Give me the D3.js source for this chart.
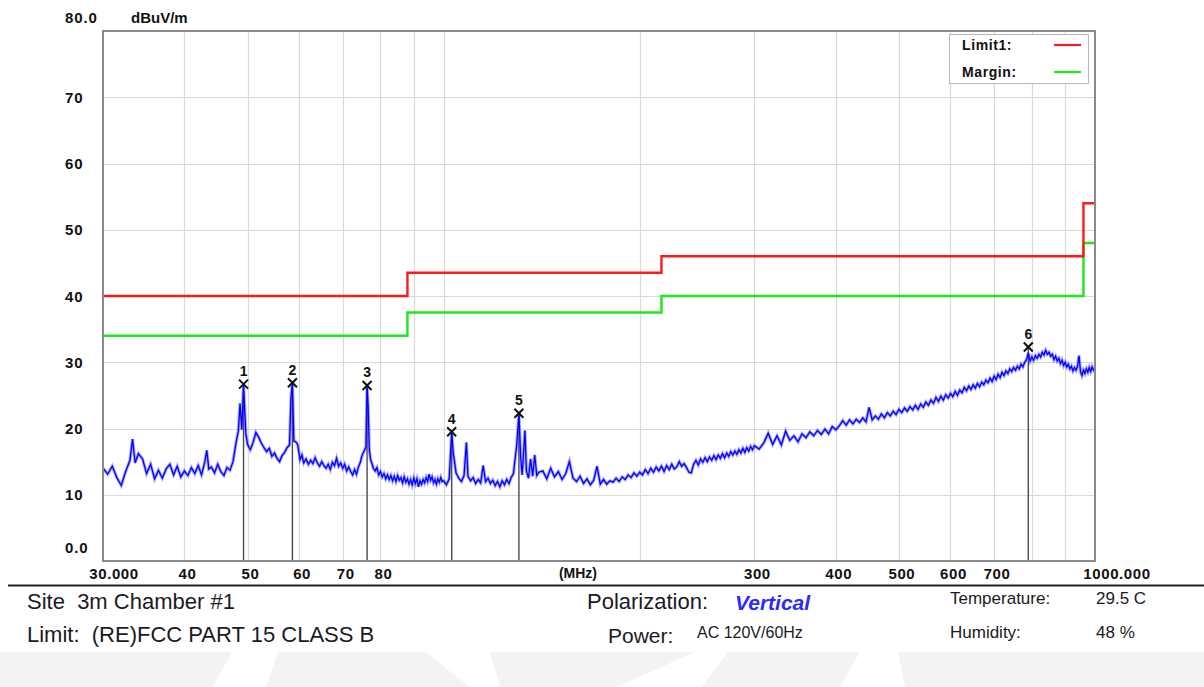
<!DOCTYPE html>
<html><head><meta charset="utf-8">
<script src="https://cdn.jsdelivr.net/npm/d3@7"></script>
<style>body{margin:0;background:#fff;} svg{display:block;} text{white-space:pre;}</style>
</head><body><svg id="c" width="1204" height="687"></svg>
<script>
const yTicks=[0,10,20,30,40,50,60,70,80];
const yTickLabels=["0.0","10","20","30","40","50","60","70","80.0"];
const xGridFreqs=[40,50,60,70,80,90,100,200,300,400,500,600,700,800,900];
const xTickFreqs=[30,40,50,60,70,80,300,400,500,600,700,1000];
const xTickLabels=["30.000","40","50","60","70","80","300","400","500","600","700","1000.000"];
const limitFreqs=[30,88,216,960,1000];
const limitLevels=[40,43.5,46,54,54];
const marginLevels=[34,37.5,40,48,48];
const markerIds=["1","2","3","4","5","6"];
const markerFreqs=[49.3,58.6,76.3,102.9,130.5,790];
const markerLevels=[26.7,26.9,26.5,19.5,22.3,32.3];
const legendNames=["Limit1:","Margin:"];
const legendColors=["#ff1a1a","#1ee61e"];

const traceLow=[[30,14.0],[30.5,13.1],[31,14.3],[31.5,12.6],[32,11.4],[32.5,13.5],[33,15.2],[33.3,18.4],[33.6,14.8],[34,16.2],[34.5,15.4],[35,13.2],[35.5,14.6],[36,12.4],[36.5,13.7],[37,12.5],[37.5,13.9],[38,14.6],[38.5,13.0],[39,14.3],[39.5,12.7],[40,13.6],[40.5,12.9],[41,14.1],[41.5,13.2],[42,14.4],[42.5,13.0],[43,15.0],[43.3,16.7],[43.6,13.9],[44,14.2],[44.5,13.3],[45,14.6],[45.5,13.5],[46,12.9],[46.5,14.1],[47,13.7],[47.5,15.0],[48,17.8],[48.4,19.6],[48.7,23.8],[49,19.8],[49.3,26.6],[49.7,19.3],[50,17.6],[50.5,16.8],[51,17.9],[51.5,19.4],[52,18.7],[52.5,17.8],[53,17.1],[53.5,16.5],[54,17.0],[54.5,15.8],[55,16.3],[55.5,15.5],[56,15.0],[56.5,15.9],[57,16.4],[57.5,17.1],[58,17.5],[58.3,24.6],[58.6,26.9],[58.9,18.1],[59.3,18.0],[59.7,17.6],[60.2,15.3],[60.6,16.0],[61,14.8],[61.5,15.4],[62,14.6],[62.5,15.2],[63,14.7],[63.5,15.6],[64,14.8],[64.5,14.3],[65,15.0],[65.5,14.4],[66,14.0],[66.5,14.6],[67,13.8],[67.5,14.9],[68,14.4],[68.5,15.5],[69,14.3],[69.5,14.8],[70,14.0],[70.5,14.6],[71,13.6],[71.5,14.2],[72,13.5],[72.5,13.0],[73,13.8],[73.5,13.1],[74,14.2],[74.5,14.9],[75,16.0],[75.5,16.6],[76,17.2],[76.3,26.5],[76.6,23.2],[76.9,16.8],[77.3,15.2],[77.7,14.6],[78,14.0],[78.5,13.6],[79,14.1],[79.5,13.0],[80,13.5],[80.5,12.7],[81,13.2],[81.5,12.4],[82,13.0],[82.5,12.3],[83,12.9],[83.5,12.1],[84,12.8],[84.5,12.0],[85,12.9],[85.5,12.2],[86,12.6],[86.5,11.8],[87,12.7],[87.5,11.9],[88,12.4],[88.5,11.6],[89,12.3],[89.5,11.5],[90,12.5],[90.5,11.7],[91,12.4],[91.5,11.2],[92,12.1],[92.5,11.6],[93,12.3],[93.5,11.8],[94,12.6],[94.5,12.0],[95,13.1],[95.5,12.2],[96,12.7],[96.5,11.8],[97,12.3],[97.5,11.6],[98,12.4],[98.5,11.9],[99,12.6],[99.5,12.0]];

const traceMid=[[100,12.1],[101,11.5],[102,12.4],[102.9,19.5],[103.5,16.2],[104.5,13.3],[105.5,12.5],[106.5,12.0],[107.5,12.9],[108.4,17.9],[109,12.8],[110,12.1],[111,12.6],[112,11.7],[113,12.3],[114,11.8],[115,14.4],[116,12.0],[117,12.5],[118,11.7],[119,12.2],[120,11.4],[121,12.0],[122,11.2],[123,12.1],[124,11.5],[125,12.3],[126,11.7],[127,12.6],[128,13.2],[129.5,17.5],[130.5,22.3],[131.3,15.8],[132,13.0],[133.3,19.7],[134,13.6],[135,12.5],[136,15.4],[137,12.8],[138,16.0],[139,12.9],[140,13.4],[142,13.6],[144,12.4],[146,14.0],[148,12.7],[150,13.5],[152,12.3],[154,13.2],[156,15.0],[158,12.5],[160,12.0],[162,12.8],[164,11.7],[166,12.4],[168,11.5],[170,12.2],[172,14.3],[174,11.6],[176,12.3],[178,11.6],[180,12.1],[182,11.9],[184,12.5],[186,12.0],[188,12.7],[190,12.3],[192,13.0],[194,12.6],[196,13.3],[198,12.8],[200,13.4],[202,13.0],[204,13.8],[206,13.2],[208,14.0],[210,13.4],[212,14.2],[214,13.6],[216,14.3],[218,13.5],[220,14.4],[222,13.8],[224,14.6],[226,13.9],[228,14.2],[230,15.0],[232,14.3],[234,14.7],[236,14.1],[238,13.4],[240,13.3],[242,14.6],[244,15.2],[246,14.5],[248,15.4],[250,14.9],[252,15.6],[254,15.0],[256,15.7],[258,15.2],[260,15.9],[262,15.3],[264,16.0],[266,15.5],[268,16.2],[270,15.6],[272,16.3],[274,15.8],[276,16.5],[278,16.0],[280,16.6],[282,16.1],[284,16.8],[286,16.3],[288,17.0],[290,16.4],[292,17.1],[294,16.6],[296,17.3],[298,16.8]];

const traceHigh=[[300,17.4],[305,16.9],[310,17.8],[315,19.3],[320,17.6],[325,18.9],[330,17.5],[335,19.6],[340,18.2],[345,18.9],[350,18.0],[355,19.2],[360,18.6],[365,19.5],[370,18.9],[375,19.7],[380,19.1],[385,19.9],[390,19.2],[395,20.3],[400,19.8],[405,20.4],[410,21.2],[415,20.5],[420,21.3],[425,20.7],[430,21.4],[435,20.9],[440,21.6],[445,21.0],[450,23.2],[455,21.3],[460,21.9],[465,21.4],[470,22.2],[475,21.6],[480,22.4],[485,21.9],[490,22.6],[495,22.1],[500,22.9],[505,22.4],[510,23.1],[515,22.6],[520,23.3],[525,22.8],[530,23.5],[535,22.9],[540,23.7],[545,23.2],[550,24.0],[555,23.5],[560,24.3],[565,23.8],[570,24.7],[575,24.1],[580,24.9],[585,24.3],[590,25.1],[595,24.6],[600,25.3],[605,24.8],[610,25.6],[615,25.0],[620,25.8],[625,25.4],[630,26.2],[635,25.7],[640,26.4],[645,25.9],[650,26.6],[655,26.1],[660,26.8],[665,26.3],[670,27.0],[675,26.6],[680,27.3],[685,26.9],[690,27.6],[695,27.1],[700,27.9],[705,27.4],[710,28.2],[715,27.7],[720,28.5],[725,28.0],[730,28.7],[735,28.3],[740,29.0],[745,28.6],[750,29.2],[755,28.8],[760,29.4],[765,29.0],[770,29.7],[775,29.3],[780,30.0],[785,30.4],[790,31.4],[795,30.2],[800,30.8],[805,30.3],[810,31.0],[815,30.6],[820,31.2],[825,30.8],[830,31.5],[835,31.1],[840,31.8],[845,31.2],[850,31.5],[855,30.9],[860,31.2],[865,30.4],[870,30.9],[875,30.2],[880,30.6],[885,29.8],[890,30.3],[895,29.5],[900,30.0],[905,29.3],[910,29.7],[915,29.0],[920,29.4],[925,28.7],[930,29.2],[935,28.8],[940,29.4],[945,31.0],[950,28.6],[955,28.0],[960,28.8],[965,28.3],[970,29.0],[975,28.5],[980,29.2],[985,28.6],[990,29.3],[995,28.8],[1000,29.1]];

const svg=d3.select("#c");
const W=1204,H=687;
const x=d3.scaleLog().domain([30,1000]).range([103,1095]);
const y=d3.scaleLinear().domain([0,80]).range([561,31]);
const axisFont="'Liberation Sans', Arial, sans-serif";

svg.append("rect").attr("width",W).attr("height",H).attr("fill","#fff");

// watermark band
svg.append("rect").attr("x",0).attr("y",652).attr("width",W).attr("height",35).attr("fill","#f3f3f3");
const wm=[[[232,652],[278,652],[266,687],[213,687]],[[425,652],[490,652],[500,687],[470,687]],[[695,652],[728,652],[702,687],[617,687]],[[860,652],[898,652],[905,687],[840,687]]];
svg.selectAll("polygon.wm").data(wm).enter().append("polygon").attr("class","wm")
  .attr("points",d=>d.map(p=>p.join(",")).join(" ")).attr("fill","#fff");

// grid
const grid=svg.append("g").attr("stroke","#d9d9d9").attr("stroke-width",1.2);
grid.selectAll("line.h").data(yTicks.slice(1,-1)).enter().append("line")
  .attr("x1",103).attr("x2",1095).attr("y1",d=>Math.round(y(d))+0.5).attr("y2",d=>Math.round(y(d))+0.5);
grid.selectAll("line.v").data(xGridFreqs).enter().append("line")
  .attr("y1",31).attr("y2",561).attr("x1",d=>Math.round(x(d))+0.5).attr("x2",d=>Math.round(x(d))+0.5);

// legend box
svg.append("rect").attr("x",949.5).attr("y",34.5).attr("width",139).attr("height",49).attr("fill","#fff").attr("stroke","#b8b8b8");
legendNames.forEach((n,i)=>{
  svg.append("text").attr("x",962).attr("y",45+i*27).attr("dominant-baseline","central")
    .attr("font-family",axisFont).attr("font-weight","bold").attr("font-size",14).attr("letter-spacing",0.6).attr("fill","#111").text(n);
  svg.append("line").attr("x1",1054).attr("x2",1081).attr("y1",45+i*27).attr("y2",45+i*27)
    .attr("stroke",legendColors[i]).attr("stroke-width",2.2);
});

// limit & margin
const stepLine=d3.line().x(d=>x(d[0])).y(d=>y(d[1])).curve(d3.curveStepAfter);
svg.append("path").datum(limitFreqs.map((f,i)=>[f,marginLevels[i]])).attr("d",stepLine)
  .attr("fill","none").attr("stroke","#1ee61e").attr("stroke-width",2.4);
svg.append("path").datum(limitFreqs.map((f,i)=>[f,limitLevels[i]])).attr("d",stepLine)
  .attr("fill","none").attr("stroke","#ff1a1a").attr("stroke-width",2.4);

// marker lines
const mk=markerFreqs.map((f,i)=>({f,v:markerLevels[i],id:markerIds[i]}));
svg.selectAll("line.mk").data(mk).enter().append("line")
  .attr("x1",d=>x(d.f)).attr("x2",d=>x(d.f)).attr("y1",d=>y(d.v)).attr("y2",561)
  .attr("stroke","#4a4a4a").attr("stroke-width",1.4);

// trace (soft underlay + line to mimic dense sweep)
const trace=traceLow.concat(traceMid,traceHigh);
const ln=d3.line().x(d=>x(d[0])).y(d=>y(d[1]));
svg.append("path").datum(trace).attr("d",ln).attr("fill","none").attr("stroke","#3a3aff").attr("stroke-opacity",0.45).attr("stroke-width",3.2);
svg.append("path").datum(trace).attr("d",ln).attr("fill","none").attr("stroke","#0000ff").attr("stroke-width",1.3);

// markers
const mg=svg.selectAll("g.mk").data(mk).enter().append("g").attr("transform",d=>`translate(${x(d.f)},${y(d.v)})`);
mg.append("path").attr("d","M-4.5,-4.5L4.5,4.5M-4.5,4.5L4.5,-4.5").attr("stroke","#111").attr("stroke-width",2);
mg.append("text").attr("y",-13).attr("text-anchor","middle").attr("dominant-baseline","central")
  .attr("font-family",axisFont).attr("font-weight","bold").attr("font-size",14).attr("fill","#111").text(d=>d.id);

// plot border
svg.append("rect").attr("x",103).attr("y",31).attr("width",992).attr("height",530)
  .attr("fill","none").attr("stroke","#8a8a8a").attr("stroke-width",2);

// y labels
svg.selectAll("text.yl").data(yTicks).enter().append("text")
  .attr("x",65).attr("y",(d,i)=> y(d) - ((i===0||i===yTicks.length-1)?14:0))
  .attr("dominant-baseline","central").attr("font-family",axisFont).attr("font-weight","bold")
  .attr("font-size",15).attr("letter-spacing",0.9).attr("fill","#111").text((d,i)=>yTickLabels[i]);
svg.append("text").attr("x",131).attr("y",17).attr("dominant-baseline","central").attr("font-family",axisFont)
  .attr("font-weight","bold").attr("font-size",15).attr("fill","#111").text("dBuV/m");

// x labels
svg.selectAll("text.xl").data(xTickFreqs).enter().append("text")
  .attr("x",(d,i)=> x(d) + (i===0?11:(i===xTickFreqs.length-1?22:3)))
  .attr("y",573).attr("text-anchor","middle").attr("dominant-baseline","central")
  .attr("font-family",axisFont).attr("font-weight","bold").attr("font-size",15).attr("letter-spacing",0.6)
  .attr("fill","#111").text((d,i)=>xTickLabels[i]);
svg.append("text").attr("x",578).attr("y",573).attr("text-anchor","middle").attr("dominant-baseline","central")
  .attr("font-family",axisFont).attr("font-weight","bold").attr("font-size",14).attr("fill","#111").text("(MHz)");

// separator
svg.append("line").attr("x1",8).attr("x2",W).attr("y1",585.5).attr("y2",585.5).attr("stroke","#222").attr("stroke-width",2);

// info text
const infoFont="Arial, 'Liberation Sans', sans-serif";
const info=[
  {t:"Site  3m Chamber #1",x:27,y:601,s:22},
  {t:"Limit:  (RE)FCC PART 15 CLASS B",x:27,y:634,s:22},
  {t:"Polarization:",x:587,y:601,s:22},
  {t:"Power:",x:608,y:635,s:21},
  {t:"AC 120V/60Hz",x:697,y:632,s:16},
  {t:"Temperature:",x:950,y:598,s:17},
  {t:"29.5 C",x:1096,y:598,s:17},
  {t:"Humidity:",x:950,y:632,s:17},
  {t:"48 %",x:1096,y:632,s:17}
];
svg.selectAll("text.info").data(info).enter().append("text")
  .attr("x",d=>d.x).attr("y",d=>d.y).attr("dominant-baseline","central").attr("font-family",infoFont)
  .attr("font-size",d=>d.s).attr("fill","#1a1a24").text(d=>d.t);
svg.append("text").attr("x",735).attr("y",602).attr("dominant-baseline","central").attr("font-family",infoFont)
  .attr("font-size",21).attr("font-weight","bold").attr("font-style","italic").attr("fill","#2b2bff").text("Vertical");
</script></body></html>
